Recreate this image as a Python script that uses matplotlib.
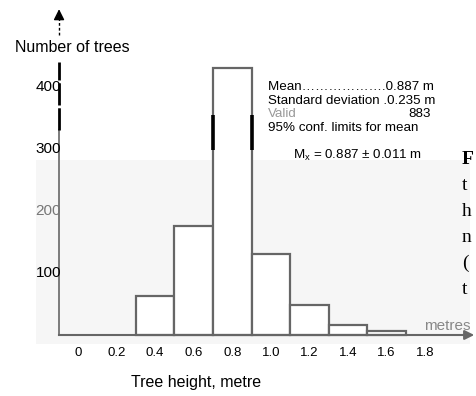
import matplotlib
matplotlib.use("Agg")
import matplotlib.pyplot as plt
from matplotlib.patches import Rectangle

plt.rcParams['font.family'] = ['Liberation Sans', 'DejaVu Sans']

# Data
bin_centers = [0.4, 0.6, 0.8, 1.0, 1.2, 1.4, 1.6]
counts = [63, 176, 430, 131, 48, 16, 6]
bin_width = 0.2
x_ticks = [0, 0.2, 0.4, 0.6, 0.8, 1.0, 1.2, 1.4, 1.6, 1.8]
x_tick_labels = ["0", "0.2", "0.4", "0.6", "0.8", "1.0", "1.2", "1.4", "1.6", "1.8"]
y_ticks = [100, 200, 300, 400]
conf_limits = [0.7, 0.9]

W, H = 477, 396
fig = plt.figure(figsize=(W / 100, H / 100), dpi=100)
ax = fig.add_axes([0, 0, 1, 1])
ax.set_xlim(-0.404, 2.068)
ax.set_ylim(-98.4, 540.3)
ax.axis('off')

axis_x = -0.098
gray = '#666666'

# faint background band
ax.add_patch(Rectangle((-0.22, -15), 2.25, 297, facecolor='#f6f6f6', edgecolor='none', zorder=0))

# bars
ax.bar(bin_centers, counts, width=bin_width, facecolor='white', edgecolor=gray, linewidth=1.6, zorder=2)

# confidence marks
for c in conf_limits:
    ax.plot([c, c], [298, 355], color='black', lw=2.6, zorder=3, solid_capstyle='butt')

# x axis with arrow
ax.plot([axis_x, 2.0], [0, 0], color=gray, lw=1.5, zorder=3)
ax.annotate('', xy=(2.068, 0), xytext=(1.98, 0),
            arrowprops=dict(arrowstyle='-|>', color=gray, lw=1.5, mutation_scale=14), zorder=3)
ax.text(2.035, 4, 'metres', color='#888888', fontsize=11, ha='right', va='bottom')

# y axis
ax.plot([axis_x, axis_x], [0, 330], color=gray, lw=1.2, zorder=3)
ax.plot([axis_x, axis_x], [330, 440], color='black', lw=2.0, ls=(0, (8, 1)), zorder=3)
ax.plot([axis_x, axis_x], [484, 510], color='black', lw=1.0, ls=(0, (2, 1.5)), zorder=3)
ax.annotate('', xy=(axis_x, 530), xytext=(axis_x, 505),
            arrowprops=dict(arrowstyle='-|>', color='black', lw=1.0, mutation_scale=16), zorder=3)
ax.text(-0.031, 464, 'Number of trees', fontsize=11.5, ha='center', va='center')

# tick labels
for t, lab in zip(x_ticks, x_tick_labels):
    ax.text(t, -29, lab, fontsize=9.5, ha='center', va='center')
for t in y_ticks:
    ax.text(axis_x + 0.01, t, str(t), fontsize=11, ha='right', va='center',
            color='#777777' if t == 200 else 'black', zorder=4)
ax.text(0.61, -77, 'Tree height, metre', fontsize=11.5, ha='center', va='center')

# stats text
sx = 0.985
fs = 9.6
ax.text(sx, 400, 'Mean……………….0.887 m', fontsize=fs, ha='left', va='center')
ax.text(sx, 378, 'Standard deviation .0.235 m', fontsize=fs, ha='left', va='center')
ax.text(sx, 356, 'Valid', fontsize=fs, ha='left', va='center', color='#999999')
ax.text(1.83, 356, '883', fontsize=fs, ha='right', va='center')
ax.text(sx, 334, '95% conf. limits for mean', fontsize=fs, ha='left', va='center')
ax.text(1.115, 290, 'M$_\\mathregular{x}$ = 0.887 ± 0.011 m', fontsize=fs, ha='left', va='center')

# page fragments at right edge
frags = [('F', 283, 'bold'), ('t', 241, 'normal'), ('h', 199, 'normal'),
         ('n', 157, 'normal'), ('(', 115, 'normal'), ('t', 73, 'normal')]
for ch, yy, wt in frags:
    ax.text(1.99, yy, ch, fontsize=14, family='Liberation Serif', ha='left', va='center', fontweight=wt)

fig.savefig('out.png', dpi=100)
